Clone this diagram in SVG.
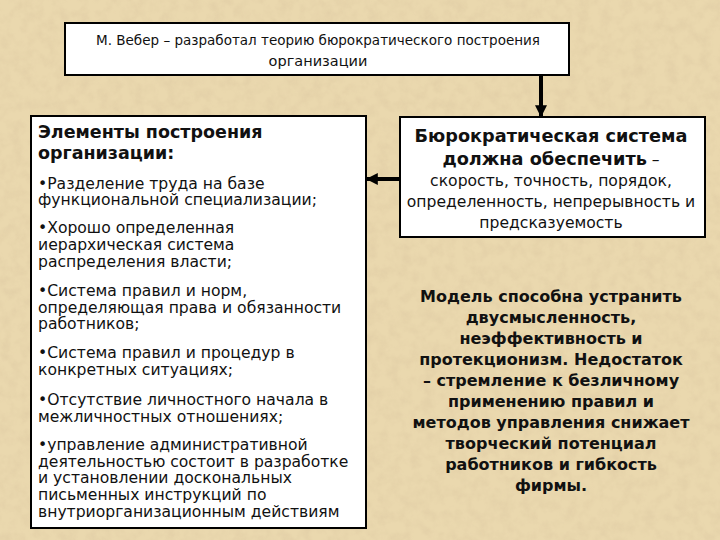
<svg xmlns="http://www.w3.org/2000/svg" width="720" height="540" viewBox="0 0 720 540">
<defs>
<filter id="tex" x="0" y="0" width="100%" height="100%">
<feTurbulence type="fractalNoise" baseFrequency="0.09" numOctaves="3" seed="4" result="n"/>
<feColorMatrix type="matrix" values="0 0 0 0 0.72  0 0 0 0 0.58  0 0 0 0 0.36  0 0 0 1.6 -0.6" in="n"/>
</filter>
<marker id="ah" viewBox="0 0 10 10" refX="9" refY="5" markerWidth="3" markerHeight="3" orient="auto">
<path d="M0,0 L10,5 L0,10 z" fill="#000"/>
</marker>
<style>
.box{fill:#fff;stroke:#000;stroke-width:2}
.t{font-family:"DejaVu Sans","Liberation Sans",sans-serif;fill:#111}
.top{font-size:14.5px}
.hd{font-size:17.5px;font-weight:bold}
.li{font-size:15.6px}
.rb{font-size:17.7px;font-weight:bold}
.rn{font-size:15.6px}
.md{font-size:16px;font-weight:bold}
.c{text-anchor:middle}
.conn{stroke:#000;stroke-width:4;fill:none}
</style>
</defs>
<rect width="720" height="540" fill="#ead8ae"/>
<rect width="720" height="540" filter="url(#tex)" opacity="0.6"/>
<g id="connectors">
<line class="conn" x1="541" y1="75" x2="541" y2="116" marker-end="url(#ah)"/>
<line class="conn" x1="399" y1="179" x2="367" y2="179" marker-end="url(#ah)"/>
</g>
<g id="weber">
<rect class="box" x="65" y="23" width="504" height="52"/>
<text class="t top c" x="318" y="45" textLength="444" lengthAdjust="spacingAndGlyphs">М. Вебер – разработал теорию бюрократического построения</text>
<text class="t top c" x="318" y="66">организации</text>
</g>
<g id="elements">
<rect class="box" x="31" y="116" width="335" height="412"/>
<text class="t hd" x="38" y="138">Элементы построения</text>
<text class="t hd" x="38" y="159">организации:</text>
<text class="t li" x="38" y="189">•Разделение труда на базе</text>
<text class="t li" x="38" y="205">функциональной специализации;</text>
<text class="t li" x="38" y="233">•Хорошо определенная</text>
<text class="t li" x="38" y="250">иерархическая система</text>
<text class="t li" x="38" y="267">распределения власти;</text>
<text class="t li" x="38" y="296">•Система правил и норм,</text>
<text class="t li" x="38" y="313">определяющая права и обязанности</text>
<text class="t li" x="38" y="329">работников;</text>
<text class="t li" x="38" y="358">•Система правил и процедур в</text>
<text class="t li" x="38" y="375">конкретных ситуациях;</text>
<text class="t li" x="38" y="405">•Отсутствие личностного начала в</text>
<text class="t li" x="38" y="422">межличностных отношениях;</text>
<text class="t li" x="38" y="450">•управление административной</text>
<text class="t li" x="38" y="467">деятельностью состоит в разработке</text>
<text class="t li" x="38" y="483">и установлении доскональных</text>
<text class="t li" x="38" y="500">письменных инструкций по</text>
<text class="t li" x="38" y="517">внутриорганизационным действиям</text>
</g>
<g id="system">
<rect class="box" x="400" y="117" width="305" height="120"/>
<text class="t rb c" x="551" y="142">Бюрократическая система</text>
<text class="t c" x="551" y="165"><tspan class="rb">должна обеспечить</tspan><tspan class="rn"> –</tspan></text>
<text class="t rn c" x="551" y="186">скорость, точность, порядок,</text>
<text class="t rn c" x="551" y="207">определенность, непрерывность и</text>
<text class="t rn c" x="551" y="228">предсказуемость</text>
</g>
<g id="model">
<text class="t md c" x="551" y="302">Модель способна устранить</text>
<text class="t md c" x="551" y="323">двусмысленность,</text>
<text class="t md c" x="551" y="344">неэффективность и</text>
<text class="t md c" x="551" y="365">протекционизм.  Недостаток</text>
<text class="t md c" x="551" y="386">– стремление к безличному</text>
<text class="t md c" x="551" y="407">применению правил и</text>
<text class="t md c" x="551" y="428">методов управления снижает</text>
<text class="t md c" x="551" y="449">творческий потенциал</text>
<text class="t md c" x="551" y="470">работников и гибкость</text>
<text class="t md c" x="551" y="491">фирмы.</text>
</g>
</svg>
